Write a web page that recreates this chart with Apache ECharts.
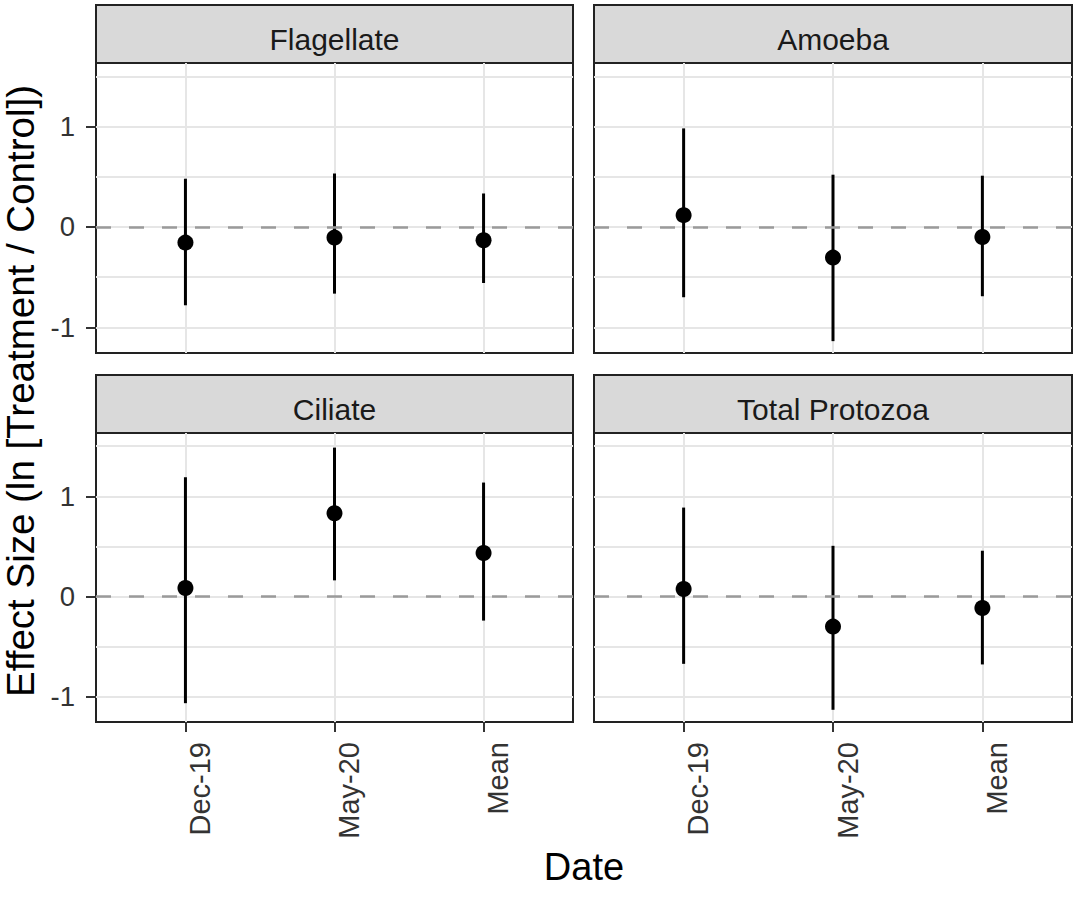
<!DOCTYPE html>
<html>
<head>
    <meta charset="utf-8">
    <title>Effect size by date</title>
    <script src="https://cdn.jsdelivr.net/npm/echarts@6/dist/echarts.min.js"></script>
    <style>
        html, body { margin: 0; padding: 0; background: #fff; }
        #main { width: 1084px; height: 902px; }
    </style>
</head>
<body>
<div id="main"></div>
<script type="text/javascript">
    // categories on the x axis (placed at 1, 2, 3 like ggplot's discrete scale)
    var dates = ['Dec-19', 'May-20', 'Mean'];
    var xTicks = [1, 2, 3];
    var yLabelTicks = [-1, 0, 1];
    var yGridTicks = [-1, -0.5, 0, 0.5, 1, 1.5];
    var panels = ['Flagellate', 'Amoeba', 'Ciliate', 'Total Protozoa'];

    // point estimate, lower and upper bound per panel
    var flagellateMean = [-0.156, -0.106, -0.133];
    var flagellateLow  = [-0.78, -0.664, -0.558];
    var flagellateHigh = [0.48, 0.532, 0.333];

    var amoebaMean = [0.117, -0.305, -0.10];
    var amoebaLow  = [-0.70, -1.137, -0.69];
    var amoebaHigh = [0.981, 0.52, 0.51];

    var ciliateMean = [0.084, 0.83, 0.433];
    var ciliateLow  = [-1.067, 0.16, -0.242];
    var ciliateHigh = [1.19, 1.486, 1.137];

    var totalMean = [0.074, -0.302, -0.116];
    var totalLow  = [-0.674, -1.133, -0.68];
    var totalHigh = [0.887, 0.505, 0.456];

    var means = [flagellateMean, amoebaMean, ciliateMean, totalMean];
    var lows = [flagellateLow, amoebaLow, ciliateLow, totalLow];
    var highs = [flagellateHigh, amoebaHigh, ciliateHigh, totalHigh];

    var FONT = "'Liberation Sans', Arial, sans-serif";
    var yMin = -1.255, yMax = 1.632;

    // panel layout (pixels)
    var boxes = [
        {left: 96, top: 63, width: 477, height: 290},
        {left: 594, top: 63, width: 478, height: 290},
        {left: 96, top: 433, width: 477, height: 289},
        {left: 594, top: 433, width: 478, height: 289}
    ];
    var stripH = 58;

    var grids = [], xAxes = [], yAxes = [], series = [], graphics = [];

    boxes.forEach(function (b, i) {
        var bottomRow = i >= 2;
        var leftCol = i % 2 === 0;

        grids.push({
            left: b.left, top: b.top, width: b.width, height: b.height,
            show: true, backgroundColor: '#fff',
            borderColor: '#222', borderWidth: 2
        });

        xAxes.push({
            type: 'value', gridIndex: i, min: 0.4, max: 3.6,
            axisLine: {show: false, onZero: false},
            axisTick: {
                show: bottomRow, customValues: xTicks, length: 10,
                lineStyle: {color: '#333', width: 2}
            },
            axisLabel: {
                show: bottomRow, customValues: xTicks, rotate: 90,
                margin: 20, verticalAlign: 'top', padding: [0, 0, 4, 0],
                fontSize: 29, fontFamily: FONT, color: '#333',
                formatter: function (v) { return dates[Math.round(v) - 1]; }
            },
            splitLine: {show: true, lineStyle: {color: '#e6e6e6', width: 2}}
        });

        // labelled axis: ticks only at -1, 0, 1
        yAxes.push({
            type: 'value', gridIndex: i, min: yMin, max: yMax,
            axisLine: {show: false, onZero: false},
            axisTick: {
                show: leftCol, customValues: yLabelTicks, length: 10,
                lineStyle: {color: '#333', width: 2}
            },
            axisLabel: {
                show: leftCol, customValues: yLabelTicks, margin: 21,
                fontSize: 27.5, fontFamily: FONT, color: '#333'
            },
            splitLine: {show: false}
        });
        // grid axis: major + minor grid lines every 0.5
        yAxes.push({
            type: 'value', gridIndex: i, min: yMin, max: yMax,
            axisLine: {show: false, onZero: false},
            axisTick: {show: false, customValues: yGridTicks},
            axisLabel: {show: false, customValues: yGridTicks},
            splitLine: {show: true, lineStyle: {color: '#e6e6e6', width: 2}}
        });

        var bars = [], pts = [];
        for (var k = 0; k < dates.length; k++) {
            bars.push([xTicks[k], lows[i][k], highs[i][k]]);
            pts.push([xTicks[k], means[i][k]]);
        }

        // dashed reference line at zero
        series.push({
            type: 'line', xAxisIndex: i, yAxisIndex: i * 2, data: [], z: 1,
            markLine: {
                silent: true, symbol: 'none', animation: false,
                label: {show: false},
                lineStyle: {type: [15, 18], color: '#9a9a9a', width: 2.5},
                data: [{yAxis: 0}]
            }
        });

        series.push({
            type: 'custom', xAxisIndex: i, yAxisIndex: i * 2, z: 2,
            encode: {x: 0, y: [1, 2]},
            data: bars,
            renderItem: function (params, api) {
                var x = api.value(0);
                var lo = api.coord([x, api.value(1)]);
                var hi = api.coord([x, api.value(2)]);
                return {
                    type: 'line',
                    shape: {x1: lo[0], y1: lo[1], x2: hi[0], y2: hi[1]},
                    style: {stroke: '#000', lineWidth: 3}
                };
            }
        });

        series.push({
            type: 'scatter', xAxisIndex: i, yAxisIndex: i * 2, z: 3,
            symbol: 'circle', symbolSize: 16,
            itemStyle: {color: '#000', opacity: 1},
            data: pts
        });

        // facet strip
        graphics.push({
            type: 'rect',
            shape: {x: b.left, y: b.top - stripH, width: b.width, height: stripH},
            style: {fill: '#d9d9d9', stroke: '#222', lineWidth: 2}
        });
        graphics.push({
            type: 'text',
            x: b.left + b.width / 2, y: b.top - stripH / 2 + 5,
            style: {
                text: panels[i], fontSize: 30, fontFamily: FONT, fill: '#1a1a1a',
                align: 'center', verticalAlign: 'middle'
            }
        });
    });

    graphics.push({
        type: 'text', x: 20, y: 391, rotation: Math.PI / 2,
        style: {
            text: 'Effect Size (ln [Treatment / Control])', fontSize: 38.5, fontFamily: FONT,
            fill: '#000', align: 'center', verticalAlign: 'middle'
        }
    });
    graphics.push({
        type: 'text', x: 584, y: 867,
        style: {
            text: 'Date', fontSize: 38, fontFamily: FONT,
            fill: '#000', align: 'center', verticalAlign: 'middle'
        }
    });

    var myChart = echarts.init(document.getElementById('main'), null, {renderer: 'svg'});
    myChart.setOption({
        animation: false,
        grid: grids,
        xAxis: xAxes,
        yAxis: yAxes,
        series: series,
        graphic: graphics
    });
</script>
</body>
</html>
